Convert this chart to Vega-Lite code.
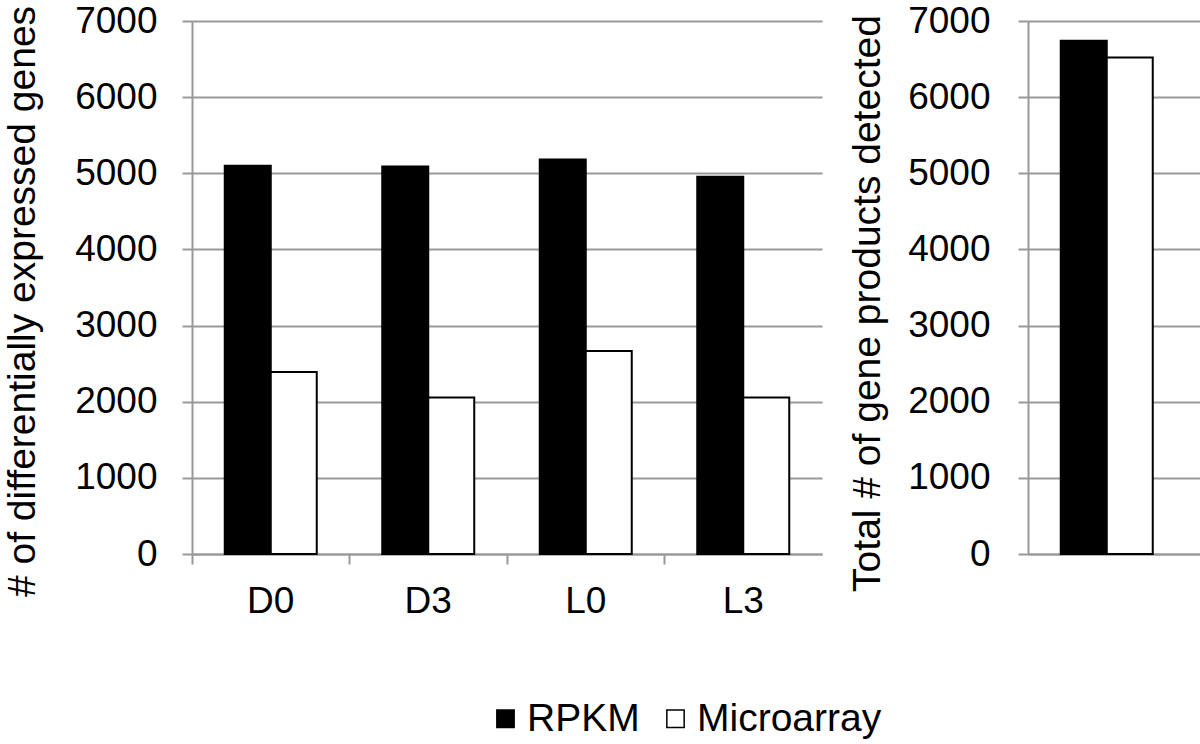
{
  "$schema": "https://vega.github.io/schema/vega-lite/v6.json",
  "padding": {"left": 3, "top": 2, "right": 0, "bottom": 0},
  "background": "white",
  "config": {
    "font": "Liberation Sans",
    "view": {"stroke": null},
    "axis": {
      "labelFont": "Liberation Sans",
      "titleFont": "Liberation Sans",
      "labelFontSize": 37,
      "titleFontSize": 39,
      "labelColor": "black",
      "titleColor": "black",
      "titleFontWeight": "normal",
      "domainColor": "#999999",
      "domainWidth": 2,
      "tickColor": "#999999",
      "tickWidth": 2,
      "tickSize": 10,
      "gridColor": "#999999",
      "gridWidth": 2,
      "gridOpacity": 1,
      "labelOverlap": false
    },
    "legend": {
      "labelFont": "Liberation Sans",
      "labelFontSize": 39,
      "labelColor": "black",
      "labelLimit": 500
    }
  },
  "datasets": {
    "de": [
      {"sample": "D0", "method": "RPKM", "count": 5100},
      {"sample": "D0", "method": "Microarray", "count": 2390},
      {"sample": "D3", "method": "RPKM", "count": 5090},
      {"sample": "D3", "method": "Microarray", "count": 2056},
      {"sample": "L0", "method": "RPKM", "count": 5180},
      {"sample": "L0", "method": "Microarray", "count": 2665},
      {"sample": "L3", "method": "RPKM", "count": 4955},
      {"sample": "L3", "method": "Microarray", "count": 2055}
    ],
    "total": [
      {"panel": "Total", "method": "RPKM", "count": 6740},
      {"panel": "Total", "method": "Microarray", "count": 6520}
    ]
  },
  "spacing": 26,
  "hconcat": [
    {
      "width": 630,
      "height": 533,
      "data": {"name": "de"},
      "mark": {"type": "bar", "stroke": "black", "strokeWidth": 2},
      "encoding": {
        "x": {
          "field": "sample", "type": "nominal", "sort": ["D0", "D3", "L0", "L3"],
          "scale": {"paddingInner": 0, "paddingOuter": 0},
          "axis": {"title": null, "labelAngle": 0, "bandPosition": 0, "labelPadding": 19, "grid": false, "domain": true, "ticks": true}
        },
        "xOffset": {
          "field": "method", "type": "nominal", "sort": ["RPKM", "Microarray"],
          "scale": {"paddingInner": 0, "paddingOuter": 0.712}
        },
        "y": {
          "field": "count", "type": "quantitative",
          "scale": {"domain": [0, 7000]},
          "axis": {"title": "# of differentially expressed genes", "titleFontSize": 39, "format": "d", "values": [0, 1000, 2000, 3000, 4000, 5000, 6000, 7000], "labelPadding": 25, "titlePadding": 32, "titleY": 280, "grid": true}
        },
        "color": {
          "field": "method", "type": "nominal",
          "scale": {"domain": ["RPKM", "Microarray"], "range": ["black", "white"]},
          "legend": {"title": null, "orient": "none", "legendX": 294, "legendY": 678, "direction": "horizontal", "symbolType": "square", "symbolSize": 300, "symbolStrokeColor": "black", "symbolStrokeWidth": 1.5, "symbolOpacity": 1, "labelOffset": 2, "columnPadding": 16}
        }
      }
    },
    {
      "width": 172,
      "height": 533,
      "data": {"name": "total"},
      "mark": {"type": "bar", "stroke": "black", "strokeWidth": 2},
      "encoding": {
        "x": {
          "field": "panel", "type": "nominal",
          "scale": {"paddingInner": 0, "paddingOuter": 0},
          "axis": {"title": null, "labels": false, "ticks": false, "domain": true, "grid": false}
        },
        "xOffset": {
          "field": "method", "type": "nominal", "sort": ["RPKM", "Microarray"],
          "scale": {"paddingInner": 0, "paddingOuter": 0.79}
        },
        "y": {
          "field": "count", "type": "quantitative",
          "scale": {"domain": [0, 7000]},
          "axis": {"title": "Total # of gene products detected", "format": "d", "values": [0, 1000, 2000, 3000, 4000, 5000, 6000, 7000], "labelPadding": 28, "titlePadding": 20, "titleY": 282, "grid": true}
        },
        "color": {
          "field": "method", "type": "nominal",
          "scale": {"domain": ["RPKM", "Microarray"], "range": ["black", "white"]}
        }
      }
    }
  ]
}
